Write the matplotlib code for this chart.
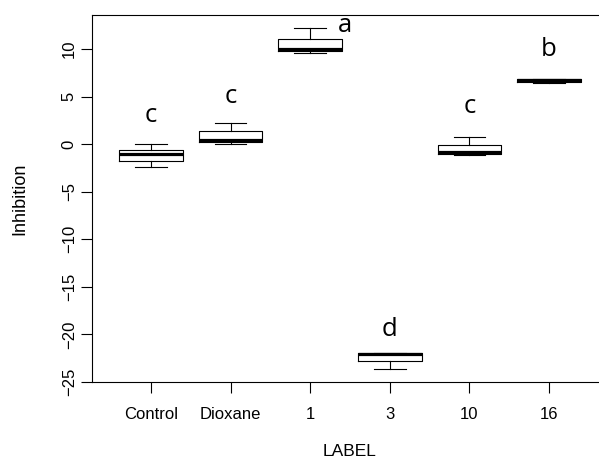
import matplotlib
matplotlib.use("Agg")
import matplotlib.pyplot as plt

categories = ["Control", "Dioxane", "1", "3", "10", "16"]
whisker_low = [-2.36, 0.00, 9.61, -23.59, -1.16, 6.42]
q1 = [-1.76, 0.24, 9.79, -22.82, -0.99, 6.56]
median = [-1.09, 0.48, 9.96, -22.10, -0.84, 6.70]
q3 = [-0.57, 1.40, 11.06, -22.00, -0.04, 6.80]
whisker_high = [0.00, 2.27, 12.17, -22.00, 0.73, 6.80]

letters = ["c", "c", "a", "d", "c", "b"]
letter_x = [1.0, 2.0, 3.44, 4.0, 5.0, 6.0]
letter_y = [3.0, 5.05, 12.5, -19.5, 4.0, 9.95]

yticks = [10, 5, 0, -5, -10, -15, -20, -25]

plt.rcParams['font.family'] = ['Liberation Sans', 'DejaVu Sans']

fig = plt.figure(figsize=(5.99, 4.61), dpi=100)
ax = fig.add_axes([92/599, 79/461, (608-92)/599, (382-15)/461])

stats = []
for i, c in enumerate(categories):
    stats.append(dict(label=c, whislo=whisker_low[i], q1=q1[i], med=median[i],
                      q3=q3[i], whishi=whisker_high[i], fliers=[]))

positions = list(range(1, len(categories) + 1))
ax.bxp(stats, positions=positions, widths=0.8, showfliers=False,
       boxprops=dict(color='black', linewidth=0.8),
       medianprops=dict(color='black', linewidth=2.3, solid_capstyle='butt'),
       whiskerprops=dict(color='black', linewidth=0.8),
       capprops=dict(color='black', linewidth=0.8),
       capwidths=0.4)

for t, x, y in zip(letters, letter_x, letter_y):
    ax.text(x, y, t, ha='center', va='center', fontsize=18.5,
            family=['Open Sans', 'DejaVu Sans'])

ax.set_xlim(0.26, 6.74)
ax.set_ylim(-25, 13.57)
ax.set_yticks(yticks)
ax.set_yticklabels([str(v).replace('-', '\u2212') for v in yticks], rotation=90, va='center')
ax.set_xticks(positions)
ax.set_xticklabels(categories)
ax.tick_params(axis='both', length=8, width=0.8, labelsize=12, color='black')
ax.tick_params(axis='y', pad=3)
ax.tick_params(axis='x', pad=10)
ax.spines['right'].set_visible(False)
for s in ['top', 'left', 'bottom']:
    ax.spines[s].set_linewidth(0.8)
ax.set_xlabel("LABEL", fontsize=12.5, labelpad=16)
ax.set_ylabel("Inhibition", fontsize=13, labelpad=24)

fig.savefig("out.png", dpi=100)
